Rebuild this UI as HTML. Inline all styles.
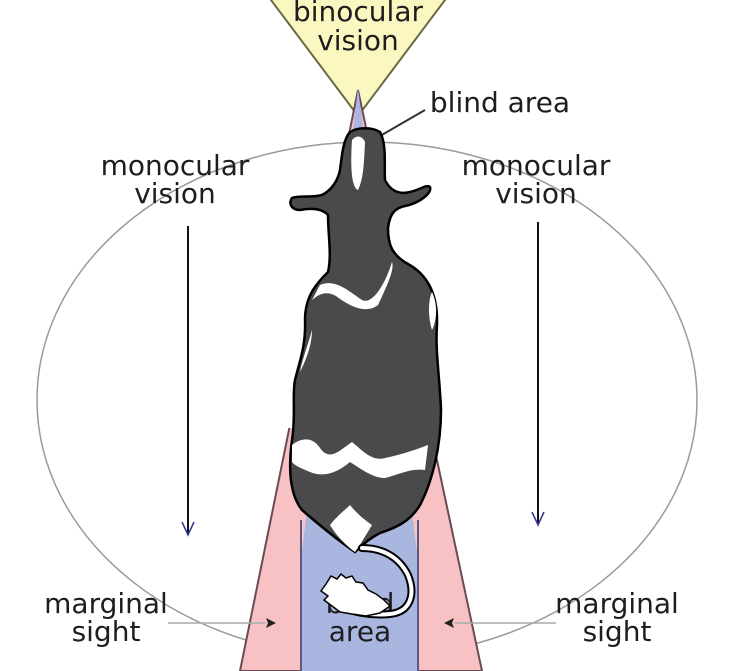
<!DOCTYPE html>
<html><head><meta charset="utf-8"><style>
html,body{margin:0;padding:0;background:#fff}
svg{display:block}
text{font-family:"DejaVu Sans","Liberation Sans",sans-serif;font-size:28px;fill:#1e1e1e;text-anchor:middle}
</style></head><body>
<svg width="750" height="671" viewBox="0 0 750 671" xmlns="http://www.w3.org/2000/svg">
<!-- yellow binocular -->
<polygon points="268,-4 448,-4 358,116" fill="#fbf7c0" stroke="#6a6a40" stroke-width="2"/>
<!-- ellipse -->
<ellipse cx="367" cy="400" rx="330" ry="258" fill="none" stroke="#9a9a9a" stroke-width="1.5"/>
<!-- pink marginal -->
<polygon points="358,90 240,671 482,671" fill="#f8c2c4" stroke="#6a4a55" stroke-width="2"/>
<!-- blue blind area -->
<polygon points="358,88 301,560 301,671 418,671 418,560" fill="#a9b6e0"/>
<line x1="301" y1="520" x2="301" y2="671" stroke="#5a5a80" stroke-width="2"/>
<line x1="418" y1="520" x2="418" y2="671" stroke="#5a5a80" stroke-width="2"/>
<!-- white halo around cow -->
<rect x="282" y="190" width="166" height="238" fill="#fff"/>
<!-- labels -->
<text x="358" y="21">binocular</text>
<text x="358" y="50">vision</text>
<text x="500" y="112">blind area</text>
<line x1="425" y1="110" x2="380" y2="136" stroke="#333" stroke-width="2"/>
<text x="175" y="175">monocular</text>
<text x="175" y="203">vision</text>
<text x="536" y="175">monocular</text>
<text x="536" y="203">vision</text>
<text x="106" y="613">marginal</text>
<text x="106" y="641">sight</text>
<text x="360" y="613">blind</text>
<text x="360" y="641">area</text>
<text x="617" y="613">marginal</text>
<text x="617" y="641">sight</text>
<!-- monocular arrows -->
<line x1="188" y1="226" x2="188" y2="534" stroke="#111" stroke-width="2"/>
<polyline points="182,522 188,535 194,522" fill="none" stroke="#333399" stroke-width="1.5"/>
<line x1="538" y1="222" x2="538" y2="524" stroke="#111" stroke-width="2"/>
<polyline points="532,512 538,525 544,512" fill="none" stroke="#333399" stroke-width="1.5"/>
<!-- marginal pointers -->
<line x1="168" y1="623" x2="265" y2="623" stroke="#aaa" stroke-width="1.5"/>
<polygon points="276,623 266,618 268,623 266,628" fill="#222"/>
<line x1="455" y1="623" x2="556" y2="623" stroke="#aaa" stroke-width="1.5"/>
<polygon points="444,623 454,618 452,623 454,628" fill="#222"/>
<!-- cow body -->
<path d="M350,132 C358,127 372,127 380,132 C387,145 384,165 385,180 C390,190 398,195 410,192 C420,190 426,184 430,187 C432,193 420,203 405,206 C396,208 390,212 388,228 C388,245 392,255 408,264 C428,275 438,295 437,325 C435,350 440,380 441,410 C441,445 433,480 420,505 C410,522 395,528 380,533 C370,538 362,545 355,552 C345,545 325,530 302,510 C290,495 288,470 292,440 C296,415 292,395 295,380 C300,360 306,345 305,320 C305,295 318,282 328,272 C332,255 328,235 328,215 C322,208 310,208 300,210 C292,210 288,204 292,198 C300,195 312,198 322,195 C332,190 338,180 340,170 C342,155 343,140 350,132 Z" fill="#4a4a4c" stroke="#000" stroke-width="2.5"/>
<!-- white patches -->
<path d="M352,140 C356,135 362,135 365,142 C364,160 364,178 358,190 C352,188 350,170 352,140 Z" fill="#fff"/>
<path d="M320,285 C335,278 350,292 362,300 C372,305 385,285 392,262 C395,270 385,290 378,305 C365,315 348,305 336,296 C325,290 318,295 312,300 Z" fill="#fff"/>
<path d="M432,292 C438,305 437,320 432,330 C428,318 428,300 432,292 Z" fill="#fff"/>
<path d="M312,330 C308,345 302,360 300,372 C306,360 312,345 312,330 Z" fill="#fff"/>
<path d="M292,445 C305,435 315,440 320,448 C330,462 340,450 352,442 C362,450 372,462 385,458 C400,455 415,450 428,445 L425,470 C410,468 398,475 385,478 C372,478 360,468 350,462 C338,472 325,478 310,472 C300,468 294,465 292,462 Z" fill="#fff"/>
<path d="M330,525 C338,515 345,510 350,505 C358,515 365,520 372,525 C366,535 360,545 355,552 C345,545 336,535 330,525 Z" fill="#fff"/>
<!-- tail -->
<path d="M362,548 C380,548 398,555 408,575 C416,595 410,612 390,614 C370,616 350,612 335,604" fill="none" stroke="#000" stroke-width="8" stroke-linecap="round"/>
<path d="M362,548 C380,548 398,555 408,575 C416,595 410,612 390,614 C370,616 350,612 335,604" fill="none" stroke="#fff" stroke-width="4" stroke-linecap="round"/>
<path d="M326,584 L331,576 L337,579 L341,574 L346,578 L352,576 L356,582 L363,583 L368,590 L376,594 L384,600 L390,606 L380,613 L366,616 L352,614 L340,612 L332,606 L324,600 L328,596 L321,591 Z" fill="#fff" stroke="#000" stroke-width="1.5"/>
</svg>
</body></html>
